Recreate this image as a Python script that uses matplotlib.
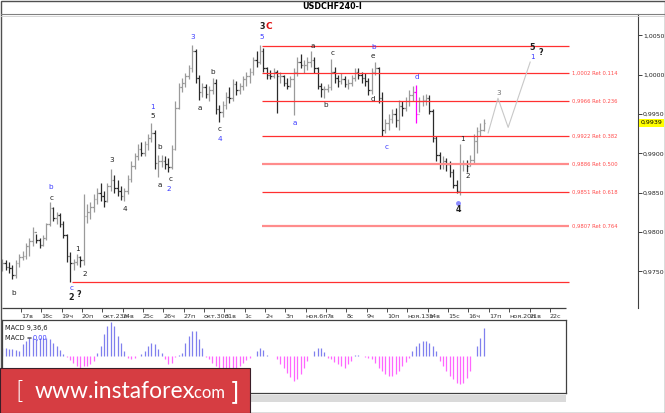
import matplotlib
matplotlib.use('Agg')
import matplotlib.pyplot as plt
from matplotlib.patches import Rectangle

# H4 bars, Oct 16 - Nov 16
highs = [0.9766, 0.9764, 0.9762, 0.9758, 0.9764, 0.9772, 0.9776, 0.9786, 0.9792, 0.9806,
         0.9798, 0.9792, 0.9796, 0.9812, 0.9838, 0.9832, 0.9826, 0.9824, 0.9814, 0.9798,
         0.9774, 0.9766, 0.9772, 0.9770, 0.9848, 0.9836, 0.9838, 0.9848, 0.9856, 0.9862,
         0.9852, 0.9862, 0.9880, 0.9872, 0.9866, 0.9858, 0.9856, 0.9872, 0.9890, 0.9900,
         0.9912, 0.9914, 0.9916, 0.9924, 0.9939, 0.9930, 0.9898, 0.9898, 0.9896, 0.9894,
         0.9910, 0.9966, 0.9990, 0.9996, 1.0002, 1.0012, 1.0038, 1.0032, 1.0000, 0.9990,
         0.9988, 0.9986, 0.9996, 0.9994, 0.9962, 0.9966, 0.9978, 0.9984, 0.9994, 0.9992,
         0.9990, 0.9998, 1.0004, 1.0008, 1.0022, 1.0030, 1.0038, 1.0034, 1.0010, 1.0006,
         1.0008, 1.0006, 1.0004, 1.0000, 0.9996, 0.9998, 1.0008, 1.0022, 1.0026, 1.0018,
         1.0022, 1.0030, 1.0022, 1.0010, 0.9990, 0.9986, 0.9988, 1.0020, 1.0010, 1.0000,
         1.0002, 0.9998, 0.9994, 1.0000, 1.0008, 1.0008, 1.0004, 1.0002, 0.9996, 1.0008,
         1.0016, 1.0010, 0.9978, 0.9944, 0.9950, 0.9956, 0.9958, 0.9968, 0.9966, 0.9972,
         0.9980, 0.9986, 0.9987, 0.9972, 0.9974, 0.9976, 0.9974, 0.9956, 0.9922, 0.9902,
         0.9896, 0.9894, 0.9890, 0.9880, 0.9866, 0.9912, 0.9892, 0.9892, 0.9898, 0.9924,
         0.9934, 0.9938, 0.9944]
lows = [0.9750, 0.9752, 0.9748, 0.9740, 0.9742, 0.9756, 0.9764, 0.9766, 0.9770, 0.9782,
        0.9786, 0.9780, 0.9782, 0.9790, 0.9808, 0.9814, 0.9810, 0.9806, 0.9792, 0.9762,
        0.9737, 0.9752, 0.9758, 0.9756, 0.9758, 0.9812, 0.9816, 0.9826, 0.9836, 0.9840,
        0.9832, 0.9838, 0.9852, 0.9850, 0.9846, 0.9841, 0.9840, 0.9848, 0.9864, 0.9880,
        0.9892, 0.9896, 0.9896, 0.9904, 0.9914, 0.9880, 0.9870, 0.9882, 0.9880, 0.9876,
        0.9880, 0.9904, 0.9956, 0.9978, 0.9984, 0.9994, 1.0004, 0.9990, 0.9968, 0.9972,
        0.9970, 0.9966, 0.9976, 0.9950, 0.9940, 0.9946, 0.9956, 0.9964, 0.9966, 0.9974,
        0.9976, 0.9980, 0.9986, 0.9990, 1.0000, 1.0010, 1.0014, 1.0004, 0.9994, 0.9994,
        0.9996, 0.9951, 0.9990, 0.9986, 0.9982, 0.9984, 0.9949, 0.9998, 1.0008, 1.0002,
        1.0006, 1.0010, 1.0002, 0.9982, 0.9972, 0.9970, 0.9978, 0.9980, 0.9990, 0.9984,
        0.9988, 0.9984, 0.9982, 0.9986, 0.9992, 0.9994, 0.9990, 0.9986, 0.9974, 0.9976,
        1.0000, 0.9964, 0.9922, 0.9926, 0.9930, 0.9938, 0.9934, 0.9930, 0.9948, 0.9954,
        0.9960, 0.9966, 0.9939, 0.9952, 0.9960, 0.9962, 0.9950, 0.9914, 0.9890, 0.9880,
        0.9880, 0.9878, 0.9870, 0.9856, 0.9849, 0.9847, 0.9878, 0.9876, 0.9884, 0.9888,
        0.9900, 0.9922, 0.9928]
closes = [0.9760, 0.9756, 0.9754, 0.9745, 0.9760, 0.9768, 0.9770, 0.9782, 0.9788, 0.9800,
          0.9790, 0.9784, 0.9792, 0.9810, 0.9830, 0.9818, 0.9822, 0.9810, 0.9796, 0.9770,
          0.9760, 0.9762, 0.9768, 0.9764, 0.9820, 0.9826, 0.9832, 0.9842, 0.9850, 0.9846,
          0.9840, 0.9858, 0.9866, 0.9856, 0.9852, 0.9846, 0.9852, 0.9868, 0.9884, 0.9896,
          0.9906, 0.9900, 0.9912, 0.9920, 0.9926, 0.9888, 0.9890, 0.9890, 0.9886, 0.9882,
          0.9906, 0.9958, 0.9984, 0.9990, 0.9998, 1.0008, 1.0030, 0.9996, 0.9978, 0.9984,
          0.9976, 0.9980, 0.9990, 0.9956, 0.9952, 0.9962, 0.9972, 0.9970, 0.9988, 0.9980,
          0.9986, 0.9994, 0.9998, 1.0004, 1.0018, 1.0016, 1.0030, 1.0008, 1.0000, 0.9998,
          1.0004, 0.9998, 0.9998, 0.9990, 0.9986, 0.9994, 1.0004, 1.0016, 1.0012, 1.0012,
          1.0016, 1.0018, 1.0008, 0.9986, 0.9982, 0.9982, 0.9984, 1.0004, 0.9996, 0.9992,
          0.9994, 0.9988, 0.9990, 0.9996, 1.0004, 1.0000, 0.9996, 0.9992, 0.9980, 1.0004,
          1.0008, 0.9970, 0.9930, 0.9938, 0.9944, 0.9950, 0.9942, 0.9960, 0.9958, 0.9966,
          0.9974, 0.9978, 0.9950, 0.9966, 0.9968, 0.9970, 0.9954, 0.9920, 0.9898, 0.9886,
          0.9890, 0.9886, 0.9876, 0.9860, 0.9852, 0.9886, 0.9886, 0.9884, 0.9892, 0.9916,
          0.9928, 0.9930, 0.9939]

# MACD(9,36,6) histogram, arbitrary units
macd_hist = [8, 8, 7, 7, 6, 5,
             12, 15, 18, 18, 17, 18, 18, 18, 17, 13, 10, 6,
             2, -1, -4, -7, -10, -12, -10, -10, -8, -5,
             3, 10, 22, 30, 34, 30, 20, 13, 5,
             -2, -3, -2,
             0, 2, 5, 10, 13, 12, 7, 3,
             -3, -8, -7, -1,
             1, 3, 13, 20, 25, 25, 17, 8,
             -1, -3, -7, -10, -13, -15, -15, -13, -13, -12, -10, -7, -4, -2,
             0, 5, 8, 6, 1, 0, 0,
             -3, -8, -12, -17, -21, -25, -23, -18, -12, -5,
             0, 5, 8, 8, 4,
             -2, -3, -6, -8, -10, -12, -8, -5,
             1, 1, 0, -1,
             -2, -3, -7, -12, -15, -18, -20, -20, -18, -15, -10, -6, -2,
             5, 10, 13, 15, 15, 13, 10, 5,
             -5, -10, -15, -20, -23, -27, -28, -27, -22, -15,
             0, 10, 18, 28]

day_labels = ['17в', '18с', '19ч', '20п', 'окт.23п', '24в', '25с', '26ч', '27п',
              'окт.30п', '31в', '1с', '2ч', '3п', 'ноя.6п', '7в', '8с', '9ч', '10п',
              'ноя.13п', '14в', '15с', '16ч', '17п', 'ноя.20п', '21в', '22с']
price_ticks = [1.0050, 1.0000, 0.9950, 0.9900, 0.9850, 0.9800, 0.9750]
last_price = 0.9939

fib_top = 1.0037
fib_bottom = 0.9737
fib_ratios = [0.114, 0.236, 0.382, 0.500, 0.618, 0.764]
fib_prices = [1.0002, 0.9966, 0.9922, 0.9886, 0.9851, 0.9807]

proj_x = [143.3, 146.2, 149.2, 155.7]
proj_y = [0.9926, 0.9970, 0.9933, 1.0016]

wave_labels = [
    (14.4, 0.9857, 'b', 'blue'), (14.4, 0.9843, 'c', 'k'), (3.5, 0.9723, 'b', 'k'),
    (22.3, 0.9778, '1', 'k'), (24.4, 0.9747, '2', 'k'), (20.3, 0.9729, 'c', 'blue'),
    (20.3, 0.9717, '2', 'kb'), (22.6, 0.9720, '?', 'kb'),
    (32.4, 0.9892, '3', 'k'), (36.2, 0.9829, '4', 'k'),
    (44.4, 0.9959, '1', 'blue'), (44.4, 0.9947, '5', 'k'),
    (46.5, 0.9908, 'b', 'k'), (46.5, 0.9860, 'a', 'k'),
    (49.5, 0.9867, 'c', 'k'), (49.2, 0.9855, '2', 'blue'),
    (56.3, 1.0048, '3', 'blue'), (58.3, 0.9958, 'a', 'k'),
    (62.2, 1.0003, 'b', 'k'), (64.2, 0.9931, 'c', 'k'), (64.2, 0.9918, '4', 'blue'),
    (76.6, 1.0061, '3', 'kb'), (76.6, 1.0048, '5', 'blue'),
    (86.3, 0.9938, 'a', 'blue'), (91.6, 1.0036, 'a', 'k'), (95.5, 0.9961, 'b', 'k'),
    (97.3, 1.0028, 'c', 'k'), (109.4, 1.0035, 'b', 'blue'), (109.4, 1.0024, 'e', 'k'),
    (109.4, 0.9969, 'd', 'k'), (113.5, 0.9908, 'c', 'blue'), (122.3, 0.9997, 'd', 'blue'),
    (135.6, 0.9918, '1', 'k'), (137.4, 0.9871, '2', 'k'), (134.4, 0.9828, '4', 'kb'),
    (146.5, 0.9977, '3', 'gray'), (156.3, 1.0034, '5', 'kb'), (156.3, 1.0022, '1', 'blue'),
    (158.9, 1.0028, '?', 'kb'),
]

W, H = 665, 413
fig = plt.figure(figsize=(W / 100, H / 100), dpi=100)
fig.patch.set_facecolor('white')

def fx(px):
    return px / W

def fy(py):
    return 1 - py / H

# main price panel
ax = fig.add_axes([fx(2), fy(308), fx(636), 294 / H])
ax.set_facecolor('white')
ax.set_xlim(-0.09, 187.5)
ax.set_ylim(0.97034, 1.00771)
for s in ['top', 'left', 'bottom']:
    ax.spines[s].set_visible(False)
ax.spines['right'].set_color('#404040')
ax.spines['right'].set_linewidth(0.8)

up_col, down_col = '#9a9a9a', '#2a2a2a'
for i in range(len(closes)):
    o = closes[i - 1] if i > 0 else closes[0]
    c = closes[i]
    col = up_col if c >= o else down_col
    if i == 122:
        col = '#ff00ff'
    ax.vlines(i, lows[i], highs[i], color=col, lw=0.9)
    ax.hlines(o, i - 0.45, i, color=col, lw=0.9)
    ax.hlines(c, i, i + 0.45, color=col, lw=0.9)

# fibonacci levels
x_fib0, x_fib1 = 76.6, 167.2
red = '#ff3030'
ax.hlines(fib_top, x_fib0, x_fib1, color=red, lw=0.9)
ax.hlines(fib_bottom, 20.5, x_fib1, color=red, lw=0.9)
for r, lvl in zip(fib_ratios, fib_prices):
    light = r in (0.500, 0.764)
    ax.hlines(lvl, x_fib0, x_fib1, color='#ff8c8c' if light else red, lw=1.6 if light else 0.9)
    txt = ('%.4f' % lvl).replace('.', ',') + ' Ret %.3f' % r
    ax.text(168.0, lvl, txt, color='#ff4c4c', fontsize=3.8, va='center', ha='left')

ax.plot(proj_x, proj_y, color='#c8c8c8', lw=0.8)

for x, y, t, c in wave_labels:
    bold = c == 'kb'
    col = {'blue': '#3b3bff', 'k': '#202020', 'kb': '#202020', 'gray': '#707070'}[c]
    ax.text(x, y, t, color=col, fontsize=5.2 if not bold else 5.8,
            fontweight='bold' if bold else 'normal', ha='center', va='center')
ax.text(78.7, 1.0061, 'C', color='#e01010', fontsize=6.5, fontweight='bold',
        ha='center', va='center')
ax.plot([134.4], [0.9837], 'o', color='#8a8aff', ms=2.5)

ax.yaxis.tick_right()
ax.set_yticks(price_ticks)
ax.set_yticklabels([('%.4f' % p).replace('.', ',') for p in price_ticks])
ax.tick_params(axis='y', length=3, pad=0.5, labelsize=4.5, colors='#202020', width=0.6)

day_pos = [6 * k - 0.5 for k in range(1, len(day_labels) + 1)]
ax.set_xticks(day_pos)
ax.set_xticklabels(day_labels)
ax.tick_params(axis='x', length=3, pad=1, labelsize=4.6, colors='#303030', width=0.6)
for lab in ax.get_xticklabels():
    lab.set_ha('left')
ax.hlines(0.97034, -0.09, 166.3, color='#404040', lw=0.9, clip_on=False)

# current price box
ax.text(188.3, last_price, ('%.4f' % last_price).replace('.', ','), fontsize=4.5,
        va='center', ha='left', color='black', clip_on=False,
        bbox=dict(boxstyle='square,pad=0.25', fc='#ffff00', ec='none'))

# MACD panel
mx = fig.add_axes([fx(2), fy(393), fx(564), 73 / H])
mx.set_xlim(-0.09, 166.3)
mx.set_ylim(-37, 36)
for s in mx.spines.values():
    s.set_color('#404040')
    s.set_linewidth(0.9)
mx.set_xticks([])
mx.set_yticks([])
for i, v in enumerate(macd_hist):
    mx.vlines(i, 0, v, color='#8080ee' if v >= 0 else '#ff66ff', lw=0.9)
mx.text(0.006, 0.93, 'MACD 9,36,6', transform=mx.transAxes, fontsize=4.8,
        va='top', ha='left', color='#202020')
mx.text(0.006, 0.80, 'MACD =', transform=mx.transAxes, fontsize=4.8,
        va='top', ha='left', color='#202020')
mx.text(0.055, 0.80, '0,00', transform=mx.transAxes, fontsize=4.8,
        va='top', ha='left', color='#3b3bff')

# frame, title, banner
ov = fig.add_axes([0, 0, 1, 1], zorder=10)
ov.set_xlim(0, W)
ov.set_ylim(H, 0)
ov.axis('off')
ov.patch.set_alpha(0)
ov.add_patch(Rectangle((0.5, 0.5), W - 1, H - 1, fill=False, ec='#505050', lw=1))
ov.plot([1, W - 1], [14, 14], color='#808080', lw=0.8)
ov.plot([1, W - 1], [15.5, 15.5], color='#d0d0d0', lw=0.6)
ov.text(332, 6.5, 'USDCHF240-I', fontsize=5.8, fontweight='bold', ha='center',
        va='center', color='black')
ov.add_patch(Rectangle((2, 395), 564, 7, fc='#dadada', ec='none'))
ov.add_patch(Rectangle((0, 368), 250, 45, fc='#d63d42', ec='#3a1e28', lw=0.8))
ov.text(15, 392, '[', fontsize=17, color='white', va='center', ha='left',
        family='DejaVu Sans', fontweight='light')
ov.text(35, 392, 'www.instaforex', fontsize=16.5, color='white', va='center',
        ha='left', family='Lato')
ov.text(190, 393, '.com', fontsize=12, color='white', va='center', ha='left',
        family='Lato')
ov.text(230, 392, ']', fontsize=17, color='white', va='center', ha='left',
        family='DejaVu Sans')

fig.savefig('out.png', dpi=100)
